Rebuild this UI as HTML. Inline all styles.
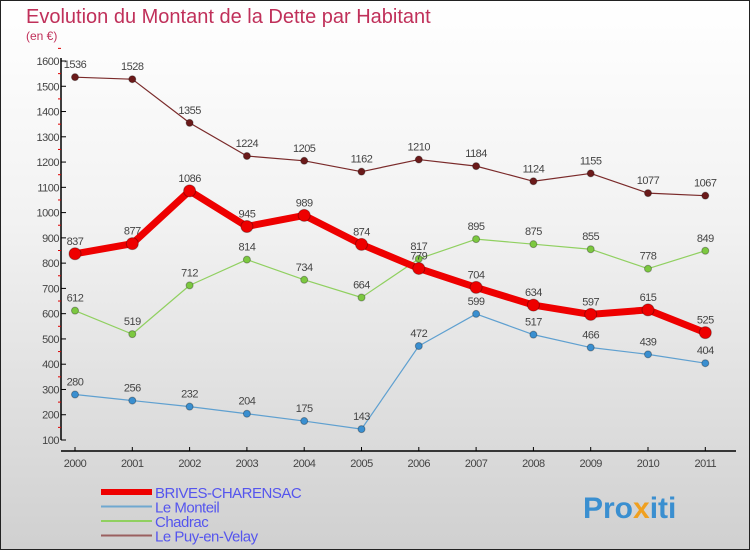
<!DOCTYPE html>
<html><head><meta charset="utf-8"><style>
html,body{margin:0;padding:0}
body{width:750px;height:550px;overflow:hidden;font-family:"Liberation Sans",sans-serif}
#wrap{position:relative;width:748px;height:548px;border:1px solid #222;background:linear-gradient(#ffffff,#f2f2f2 40%,#d0d0d0)}
</style></head><body>
<div id="wrap">
<svg id="chart" width="748" height="548" style="position:absolute;left:0;top:0">
<text x="25" y="22" font-size="20" fill="#c0305a">Evolution du Montant de la Dette par Habitant</text>
<text x="25" y="39" font-size="12" fill="#c0305a">(en €)</text>
<g id="axes"></g><g id="series"></g><g id="legend"></g>
<text x="582" y="517" font-size="30" font-weight="bold" fill="#3a8fd0">Pro<tspan fill="#f0a020">x</tspan>iti</text>
</svg>
</div>
<script>
const years=[2000,2001,2002,2003,2004,2005,2006,2007,2008,2009,2010,2011];
const brives=[837,877,1086,945,989,874,779,704,634,597,615,525];
const monteil=[280,256,232,204,175,143,472,599,517,466,439,404];
const chadrac=[612,519,712,814,734,664,817,895,875,855,778,849];
const puy=[1536,1528,1355,1224,1205,1162,1210,1184,1124,1155,1077,1067];
const yTicks=[100,200,300,400,500,600,700,800,900,1000,1100,1200,1300,1400,1500,1600];
const NS="http://www.w3.org/2000/svg";
const x=i=>74+i*57.3;
const y=v=>439-(v-100)*(379/1500);
function mk(tag,attrs,parent){const e=document.createElementNS(NS,tag);for(const k in attrs)e.setAttribute(k,attrs[k]);parent.appendChild(e);return e;}
const ax=document.getElementById('axes');
let l=mk('line',{x1:60,y1:y(1600)-3,x2:60,y2:y(100),stroke:'#000','stroke-width':1.5},ax);


l=mk('line',{x1:60,y1:450,x2:735,y2:450,stroke:'#000','stroke-width':1.5},ax);


yTicks.forEach(v=>{
 mk('line',{x1:60,y1:y(v),x2:65,y2:y(v),stroke:'#000'},ax);
 mk('line',{x1:57,y1:y(v+50),x2:60,y2:y(v+50),stroke:'#d00'},ax);
 const t=mk('text',{x:58,y:y(v)+4,'font-size':11,fill:'#444','text-anchor':'end','letter-spacing':'-0.5'},ax);
 t.textContent=v;
 
 
});
years.forEach((yr,i)=>{
 mk('line',{x1:x(i),y1:450,x2:x(i),y2:446,stroke:'#000'},ax);
 const t=mk('text',{x:x(i),y:466,'font-size':11,fill:'#444','text-anchor':'middle','letter-spacing':'-0.5'},ax);
 t.textContent=yr;
 
 
});
const sg=document.getElementById('series');
function series(arr,color,w,r,name,dot){
 const g=mk('g',{},sg);
 
 
 const p=mk('polyline',{points:arr.map((v,i)=>x(i)+','+y(v)).join(' '),fill:'none',stroke:color,'stroke-width':w,'stroke-linejoin':'round'},g);
 
 
 arr.forEach((v,i)=>{
  const c=mk('circle',{cx:x(i),cy:y(v),r:r,fill:dot,stroke:'rgba(0,0,0,0.3)'},g);
  
  
  const t=mk('text',{x:x(i),y:y(v)-9,'font-size':11,fill:'#444','text-anchor':'middle','letter-spacing':'-0.5'},g);
  t.textContent=v;
  
  
 });
}
series(puy,'#7a2a2a',1.2,3.5,'le-puy-en-velay','#6b1a1a');
series(chadrac,'#90d060',1.2,3.5,'chadrac','#7cc840');
series(monteil,'#5fa0d0',1.2,3.5,'le-monteil','#3a8fd0');
series(brives,'#ee0000',7,6,'brives-charensac','#ee0000');
const lg=document.getElementById('legend');
const items=[['BRIVES-CHARENSAC','#ee0000',6],['Le Monteil','#6fa8d0',2],['Chadrac','#90d060',2],['Le Puy-en-Velay','#9a6060',2]];
items.forEach((it,i)=>{
 const yy=491+i*14.5;
 const g=mk('g',{},lg);
 
 
 mk('line',{x1:100,y1:yy,x2:151,y2:yy,stroke:it[1],'stroke-width':it[2]},g);
 const t=mk('text',{x:154,y:yy+6,'font-size':15,fill:'#5555ee','letter-spacing':'-0.5'},g);
 t.textContent=it[0];
 
 
});
</script>
</body></html>
